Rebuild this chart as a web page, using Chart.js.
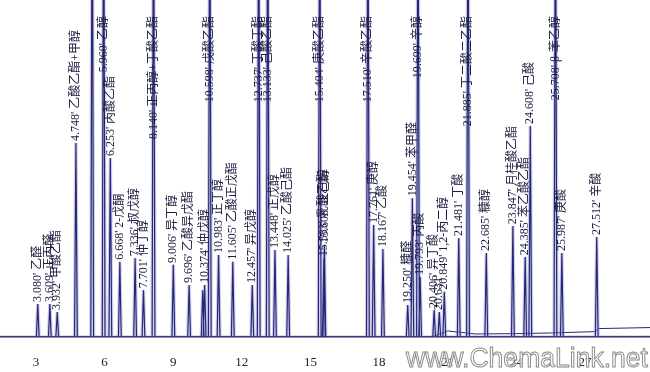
<!DOCTYPE html>
<html>
<head>
<meta charset="utf-8">
<script src="https://cdn.jsdelivr.net/npm/chart.js@4.4.1/dist/chart.umd.min.js"></script>
<style>
  body { margin: 0; background: #fff; }
  #wrap { width: 650px; height: 372px; }
</style>
</head>
<body>
<div id="wrap"><canvas id="chromChart"></canvas></div>
<script>
// retention time (min), peak height (% of plot height, >100 = off scale), compound
var retentionTimes = [3.080, 3.609, 3.932, 4.748, 5.46, 5.960, 6.253, 6.668, 7.336, 7.701,
    8.140, 9.006, 9.696, 10.29, 10.374, 10.598, 10.983, 11.605, 12.457, 12.737,
    13.133, 13.448, 14.025, 15.404, 15.583, 15.608, 17.510, 17.761, 18.167, 19.250,
    19.454, 19.699, 19.793, 20.406, 20.631, 20.849, 21.481, 21.885, 22.685, 23.847,
    24.385, 24.608, 25.708, 25.987, 27.512];
var peakHeights = [9.8, 9.8, 7.4, 57.6, 150, 150, 53.1, 22.3, 23.4, 13.9,
    150, 21.4, 15.4, 13.9, 15.4, 150, 24.3, 22.3, 15.4, 150,
    150, 25.8, 24.3, 150, 23.4, 27.3, 150, 33.2, 26.1, 9.5,
    41.2, 150, 17.8, 8.0, 7.4, 13.4, 29.4, 150, 24.9, 32.9,
    23.7, 62.6, 150, 24.9, 29.7];
var peakNames = ['乙醛', '正丙醛', '甲酸乙酯', '乙酸乙酯+甲醇', null, '乙醇', '丙酸乙酯', '2-戊酮', '叔戊醇', '仲丁醇',
    '正丙醇+丁酸乙酯', '异丁醇', '乙酸异戊酯', null, '仲戊醇', '戊酸乙酯', '正丁醇', '乙酸正戊酯', '异戊醇', '丁酸丁酯',
    '己酸乙酯', '正戊醇', '乙酸己酯', '庚酸乙酯', '乳酸乙酯', '正己醇', '辛酸乙酯', '庚醇', '乙酸', '糠醛',
    '苯甲醛', '辛醇', '丙酸', '异丁酸', '', '1,2-丙二醇', '丁酸', '丁二酸二乙酯', '糠醇', '月桂酸乙酯',
    '苯乙酸乙酯', '己酸', 'β-苯乙醇', '庚酸', '辛酸'];

// baseline drift at the end of the run
var driftTimes = [19.1, 20.3, 21.0, 22.2, 24.0, 25.5, 27.45, 27.6, 29.84];
var driftLevels = [0, 0, 1.8, 0.9, 1.0, 1.2, 1.6, 2.5, 2.8];

var xTicks = [3, 6, 9, 12, 15, 18, 21, 24, 27];

var xMin = 1.43, xMax = 29.84;
var halfWidth = 0.06;

var trace = [{x: xMin, y: 0}];
for (var i = 0; i < retentionTimes.length; i++) {
    trace.push({x: retentionTimes[i] - halfWidth, y: 0});
    trace.push({x: retentionTimes[i], y: peakHeights[i]});
    trace.push({x: retentionTimes[i] + halfWidth, y: 0});
}
trace.push({x: xMax, y: 0});

var drift = [];
for (var j = 0; j < driftTimes.length; j++) {
    drift.push({x: driftTimes[j], y: driftLevels[j]});
}

var peakLabels = {
    id: 'peakLabels',
    afterDatasetsDraw: function(chart) {
        var ctx = chart.ctx;
        var xs = chart.scales.x, ys = chart.scales.y;
        ctx.save();
        ctx.font = "12px 'Liberation Serif', 'Noto Sans CJK SC'";
        ctx.fillStyle = '#1c1c40';
        ctx.textBaseline = 'middle';
        ctx.textAlign = 'left';
        for (var i = 0; i < retentionTimes.length; i++) {
            if (peakNames[i] === null) continue;
            var text = retentionTimes[i].toFixed(3) + "'" + (peakNames[i] ? ' ' + peakNames[i] : '');
            var w = ctx.measureText(text).width;
            var x = xs.getPixelForValue(retentionTimes[i]);
            var top = ys.getPixelForValue(Math.min(peakHeights[i], ys.max));
            var start = Math.max(top - 2, w + 16);
            ctx.save();
            ctx.translate(x, start);
            ctx.rotate(-Math.PI / 2);
            ctx.fillText(text, 0, 0);
            ctx.restore();
        }
        ctx.restore();
    },
    afterDraw: function(chart) {
        // watermark
        var ctx = chart.ctx;
        var mark = 'www.ChemaLink.net';
        ctx.save();
        ctx.font = "28px 'Liberation Sans'";
        ctx.textBaseline = 'alphabetic';
        var w = ctx.measureText(mark).width;
        ctx.translate(406, 367);
        ctx.scale(242 / w, 1);
        ctx.fillStyle = 'rgba(255,255,255,0.85)';
        ctx.fillText(mark, 0, 0);
        ctx.lineWidth = 1;
        ctx.strokeStyle = '#8a8a8a';
        ctx.strokeText(mark, 0, 0);
        ctx.restore();
    }
};

new Chart(document.getElementById('chromChart'), {
    type: 'line',
    data: {
        datasets: [
            {
                data: trace,
                borderColor: '#26267a',
                borderWidth: 1.2,
                pointRadius: 0,
                tension: 0
            },
            {
                data: trace,
                borderColor: 'rgba(150,150,205,0.45)',
                borderWidth: 3.5,
                pointRadius: 0,
                tension: 0
            },
            {
                data: drift,
                borderColor: '#26267a',
                borderWidth: 1,
                pointRadius: 0,
                tension: 0
            }
        ]
    },
    plugins: [peakLabels],
    options: {
        responsive: true,
        maintainAspectRatio: false,
        animation: false,
        layout: { padding: 0 },
        plugins: {
            legend: { display: false },
            tooltip: { enabled: false }
        },
        scales: {
            x: {
                type: 'linear',
                min: xMin,
                max: xMax,
                afterBuildTicks: function(scale) {
                    scale.ticks = xTicks.map(function(v) { return {value: v}; });
                },
                afterFit: function(scale) { scale.height = 35; },
                grid: { display: false, drawTicks: false },
                border: { display: true, color: '#1a1a4a', width: 1.5 },
                ticks: {
                    padding: 18,
                    maxRotation: 0,
                    color: '#222',
                    font: { family: "'Liberation Serif'", size: 13 }
                }
            },
            y: {
                display: false,
                min: 0,
                max: 100
            }
        }
    }
});
</script>
</body>
</html>
